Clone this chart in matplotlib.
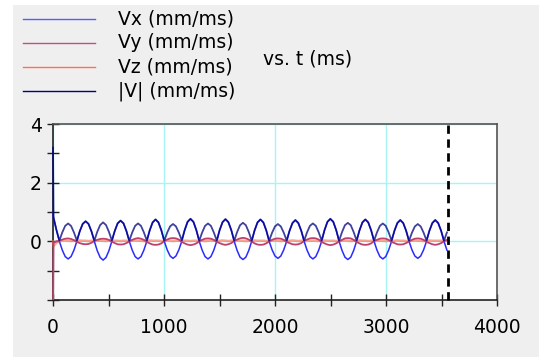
import numpy as np
import matplotlib
matplotlib.use("Agg")
import matplotlib.pyplot as plt
from matplotlib.lines import Line2D
from matplotlib.patches import Rectangle

plt.rcParams['font.family'] = ['DejaVu Sans']

# ---------------- data ----------------
sample_step_ms = 26.25
# spike sample at t = 0, then regular samples
t_ms = [0.0] + [5.0 + sample_step_ms * k for k in range(136)]

vx = [0.95,
      0.80, 0.38,
      0.00, -0.30, -0.52, -0.60, -0.52, -0.30, 0.00, 0.34, 0.59, 0.68, 0.59, 0.34,
      0.00, -0.32, -0.55, -0.64, -0.55, -0.32, 0.00, 0.35, 0.61, 0.70, 0.61, 0.35,
      0.00, -0.30, -0.52, -0.60, -0.52, -0.30, 0.00, 0.37, 0.64, 0.74, 0.64, 0.37,
      0.00, -0.29, -0.50, -0.58, -0.50, -0.29, 0.00, 0.38, 0.66, 0.76, 0.66, 0.38,
      0.00, -0.30, -0.52, -0.60, -0.52, -0.30, 0.00, 0.38, 0.65, 0.75, 0.65, 0.38,
      0.00, -0.31, -0.54, -0.62, -0.54, -0.31, 0.00, 0.37, 0.64, 0.74, 0.64, 0.37,
      0.00, -0.29, -0.50, -0.58, -0.50, -0.29, 0.00, 0.36, 0.62, 0.72, 0.62, 0.36,
      0.00, -0.30, -0.52, -0.60, -0.52, -0.30, 0.00, 0.38, 0.66, 0.76, 0.66, 0.38,
      0.00, -0.31, -0.54, -0.62, -0.54, -0.31, 0.00, 0.37, 0.64, 0.74, 0.64, 0.37,
      0.00, -0.30, -0.52, -0.60, -0.52, -0.30, 0.00, 0.36, 0.62, 0.72, 0.62, 0.36,
      0.00, -0.29, -0.50, -0.58, -0.50, -0.29, 0.00, 0.36, 0.62, 0.72, 0.62, 0.36,
      0.00, -0.30]

vy = [-3.05,
      -0.05, 0.00,
      0.02, 0.06, 0.09, 0.10, 0.08, 0.04, -0.02, -0.06, -0.09, -0.10, -0.09, -0.05,
      0.01, 0.05, 0.08, 0.09, 0.08, 0.05, -0.01, -0.06, -0.10, -0.11, -0.10, -0.06,
      0.00, 0.05, 0.09, 0.11, 0.09, 0.05, -0.02, -0.07, -0.11, -0.12, -0.11, -0.07,
      0.01, 0.06, 0.10, 0.11, 0.10, 0.06, -0.02, -0.07, -0.11, -0.13, -0.11, -0.07,
      0.00, 0.05, 0.09, 0.10, 0.09, 0.05, -0.02, -0.06, -0.10, -0.12, -0.10, -0.06,
      0.01, 0.06, 0.10, 0.12, 0.10, 0.06, -0.01, -0.07, -0.11, -0.12, -0.11, -0.07,
      0.00, 0.05, 0.09, 0.10, 0.09, 0.05, -0.02, -0.06, -0.10, -0.11, -0.10, -0.06,
      0.01, 0.06, 0.10, 0.11, 0.10, 0.06, -0.02, -0.07, -0.11, -0.13, -0.11, -0.07,
      0.00, 0.05, 0.10, 0.11, 0.10, 0.05, -0.02, -0.07, -0.11, -0.12, -0.11, -0.07,
      0.01, 0.05, 0.09, 0.10, 0.09, 0.05, -0.02, -0.06, -0.10, -0.11, -0.10, -0.06,
      0.00, 0.05, 0.09, 0.10, 0.09, 0.05, -0.02, -0.06, -0.10, -0.12, -0.10, -0.06,
      0.00, 0.05]

vz = [0.00,
      -0.15, -0.05,
      0.02, 0.02, 0.03, 0.02, 0.01, 0.02, 0.02, 0.03, 0.02, 0.02, 0.01, 0.02,
      0.02, 0.03, 0.02, 0.02, 0.01, 0.02, 0.03, 0.02, 0.02, 0.01, 0.02, 0.02,
      0.02, 0.02, 0.03, 0.02, 0.02, 0.01, 0.02, 0.03, 0.02, 0.02, 0.02, 0.01,
      0.02, 0.03, 0.02, 0.01, 0.02, 0.02, 0.03, 0.02, 0.02, 0.01, 0.02, 0.02,
      0.02, 0.02, 0.01, 0.02, 0.03, 0.02, 0.02, 0.02, 0.03, 0.02, 0.01, 0.02,
      0.02, 0.03, 0.02, 0.02, 0.01, 0.02, 0.02, 0.03, 0.02, 0.02, 0.02, 0.01,
      0.02, 0.02, 0.03, 0.02, 0.01, 0.02, 0.02, 0.02, 0.03, 0.02, 0.01, 0.02,
      0.02, 0.03, 0.02, 0.02, 0.02, 0.01, 0.02, 0.03, 0.02, 0.02, 0.02, 0.01,
      0.02, 0.02, 0.03, 0.02, 0.01, 0.02, 0.02, 0.03, 0.02, 0.02, 0.01, 0.02,
      0.02, 0.03, 0.02, 0.02, 0.01, 0.02, 0.02, 0.02, 0.03, 0.02, 0.02, 0.01,
      0.02, 0.02, 0.03, 0.02, 0.02, 0.01, 0.02, 0.03, 0.02, 0.02, 0.02, 0.02,
      0.02, 0.02]

series_labels = ["Vx (mm/ms)", "Vy (mm/ms)", "Vz (mm/ms)", "|V| (mm/ms)"]
x_label_text = "vs. t (ms)"
end_time_ms = 3558
x_ticks = [0, 1000, 2000, 3000, 4000]
y_ticks = [0, 2, 4]

# ---------------- figure ----------------
W, H = 539, 357
fig = plt.figure(figsize=(W / 100, H / 100), dpi=100, facecolor='white')
fig.patches.append(Rectangle((13 / W, 0), 1, 1 - 5 / H, transform=fig.transFigure,
                             facecolor='#efefef', edgecolor='none', zorder=-10))

ax = fig.add_axes([53 / W, 1 - 300 / H, (497 - 53) / W, (300 - 124) / H])
ax.set_facecolor('white')

t = np.array(t_ms)
vx_a, vy_a, vz_a = np.array(vx), np.array(vy), np.array(vz)
vmag = np.sqrt(vx_a ** 2 + vy_a ** 2 + vz_a ** 2)

# clip region slightly wider than the axes so the t=0 spike stays visible
clip_rect = Rectangle((-0.006, 0), 1.012, 1, transform=ax.transAxes,
                      facecolor='none', edgecolor='none')
ax.add_patch(clip_rect)

colors = ['#2b2bff', '#c0406c', '#ff6a4a', '#000080']
lines = []
lines += ax.plot(t, vx_a, color=colors[0], lw=1.1, zorder=3)
lines += ax.plot(t, vz_a, color=colors[2], lw=1.8, alpha=0.6, zorder=3)
lines += ax.plot(t, vy_a, color=colors[1], lw=1.3, zorder=4)
lines += ax.plot(t, vmag, color=colors[3], lw=1.3, alpha=0.75, zorder=5)
for ln in lines:
    ln.set_clip_path(clip_rect)

ax.axvline(end_time_ms, color='black', lw=2, ls=(0, (3, 2)), zorder=6, clip_on=False)

ax.set_xlim(0, 4000)
ax.set_ylim(-2, 4)
ax.set_xticks(x_ticks)
ax.set_xticks([500, 1500, 2500, 3500], minor=True)
ax.set_yticks(y_ticks)
ax.set_yticks([-2, -1, 1, 3], minor=True)
ax.grid(True, which='major', color='#a6f4f4', lw=1.0, zorder=0)
ax.set_axisbelow(True)

ax.tick_params(which='both', direction='inout', length=8, width=1, color='#222222',
               labelsize=13.5)
ax.tick_params(axis='x', which='both', pad=9)
ax.tick_params(axis='y', which='both', pad=4)
for s in ['left', 'bottom']:
    ax.spines[s].set_color('#222222')
    ax.spines[s].set_linewidth(1.2)
for s in ['top', 'right']:
    ax.spines[s].set_color('#555555')
    ax.spines[s].set_linewidth(1.2)

# legend (manual, matching layout)
legend_colors = ['#5a5aff', '#c0507a', '#ff7050', '#000080']
for i, (lab, c) in enumerate(zip(series_labels, legend_colors)):
    y = 1 - (19 + 24 * i) / H
    fig.add_artist(Line2D([23 / W, 95 / W], [y, y], color=c, lw=1.0))
    fig.text(118 / W, y, lab, fontsize=13.5, va='center', ha='left')
fig.text(263 / W, 1 - 59 / H, x_label_text, fontsize=13.5, va='center', ha='left')

fig.savefig('out.png', dpi=100, facecolor=fig.get_facecolor())
